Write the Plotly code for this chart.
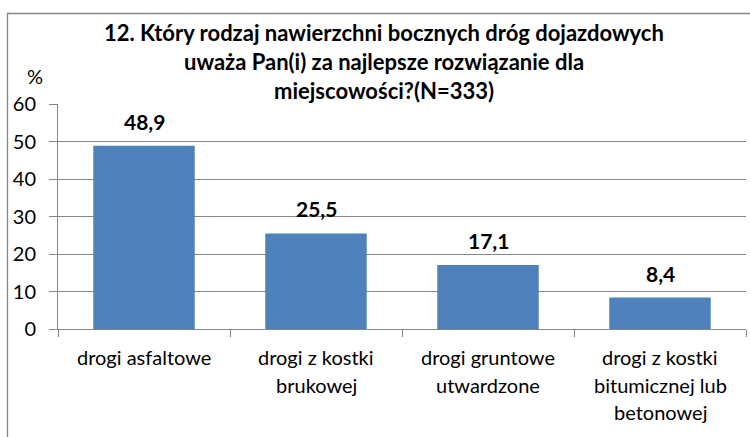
import plotly.graph_objects as go

categories = ["drogi asfaltowe", "drogi z kostki<br>brukowej", "drogi gruntowe<br>utwardzone",
              "drogi z kostki<br>bitumicznej lub<br>betonowej"]
values = [48.9, 25.5, 17.1, 8.4]
title_lines = ["12. Który rodzaj nawierzchni bocznych dróg dojazdowych",
               "uważa Pan(i) za najlepsze rozwiązanie dla",
               "miejscowości?(N=333)"]
y_ticks = [0, 10, 20, 30, 40, 50, 60]

FONT = "Lato"
GRAY = "#868686"
BLUE = "#4F81BD"

W, H = 750, 437
L, R, T, B = 58, 4, 104, 108
ph = H - T - B
pw = W - L - R

def py2paper(py):
    return (H - B - py) / ph

def px2paper(px):
    return (px - L) / pw

fig = go.Figure(go.Bar(x=list(range(len(categories))), y=values, marker_color=BLUE,
                       marker_line_width=0, width=0.59, hoverinfo="skip"))

annotations = []
for i, line in enumerate(title_lines):
    annotations.append(dict(text="<b>%s</b>" % line, x=px2paper(384), y=py2paper(33 + 28.5 * i),
                            xref="paper", yref="paper", showarrow=False, xanchor="center",
                            yanchor="middle", font=dict(family=FONT, size=22, color="#000")))
annotations.append(dict(text="%", x=px2paper(35), y=py2paper(76), xref="paper", yref="paper",
                        showarrow=False, xanchor="center", yanchor="middle",
                        font=dict(family=FONT, size=20, color="#000")))
for i, v in enumerate(values):
    annotations.append(dict(text="<b>%s</b>" % ("%.1f" % v).replace(".", ","), x=i, y=v,
                            xref="x", yref="y", showarrow=False, yanchor="bottom", yshift=10,
                            font=dict(family=FONT, size=21, color="#000")))
    for j, line in enumerate(categories[i].split("<br>")):
        annotations.append(dict(text=line, x=i, y=py2paper(357 + 27.5 * j), xref="x", yref="paper",
                                showarrow=False, yanchor="middle",
                                font=dict(family=FONT, size=20, color="#000")))

fig.update_layout(
    width=W, height=H, margin=dict(l=L, r=R, t=T, b=B),
    paper_bgcolor="white", plot_bgcolor="white", showlegend=False,
    xaxis=dict(range=[-0.5, len(categories) - 0.5], tickmode="array",
               tickvals=[-0.5, 0.5, 1.5, 2.5, 3.5], ticktext=[""] * 5,
               ticks="outside", ticklen=7, tickcolor=GRAY, showline=True, linecolor=GRAY,
               showgrid=False, zeroline=False, fixedrange=True),
    yaxis=dict(range=[0, 60], tickvals=y_ticks, ticks="outside", ticklen=8, tickcolor=GRAY,
               showline=True, linecolor=GRAY, showgrid=True, gridcolor=GRAY, zeroline=False,
               automargin=False, fixedrange=True,
               tickfont=dict(family=FONT, size=20, color="#000"), ticklabelstandoff=9),
    annotations=annotations,
    shapes=[dict(type="rect", xref="paper", yref="paper", x0=px2paper(7.5), x1=2,
                 y0=-1, y1=py2paper(13.5), line=dict(color=GRAY, width=1.3), layer="below")],
)
fig.write_html("out.html", config={"displayModeBar": False},
               post_script="document.body.style.margin='0';document.body.style.overflow='hidden';")
